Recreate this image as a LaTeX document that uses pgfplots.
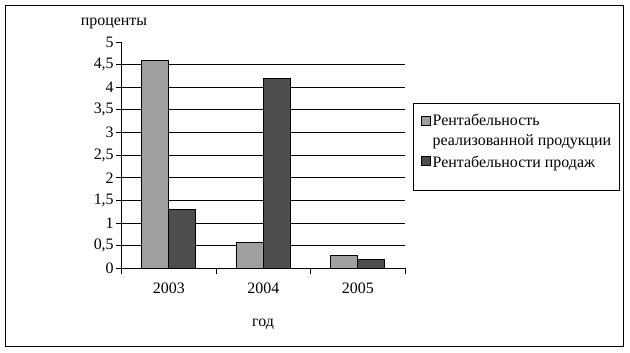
\documentclass[border=0pt]{standalone}
\usepackage{fontspec}
\setmainfont{Liberation Serif}
\usepackage{pgfplots}
\pgfplotsset{compat=1.18}
\definecolor{lg}{RGB}{160,160,160}
\definecolor{dg}{RGB}{77,77,77}
\begin{document}
\begin{tikzpicture}[x=1bp,y=1bp]
\useasboundingbox (0,0) rectangle (630,352);
\draw[line width=1bp] (5.3,352-5.3) rectangle (623.3,352-346);
\draw[line width=1bp] (413,352-103) rectangle (619.3,352-190);
\node[anchor=base,font=\fontsize{16}{19}\selectfont] at (114,352-25) {проценты};
\node[anchor=base,font=\fontsize{16}{19}\selectfont] at (263,352-326) {год};
\begin{axis}[
  at={(121.7bp,83.7bp)}, anchor=south west,
  scale only axis, width=283.3bp, height=226.3bp,
  ybar=0pt, bar width=27bp,
  xmin=-0.5, xmax=2.5, ymin=0, ymax=5,
  axis x line*=bottom, axis y line*=left,
  axis line style={line width=1bp},
  tick align=outside, major tick length=5.5bp,
  every tick/.style={black,line width=1bp},
  xtick={-0.5,0.5,1.5,2.5}, xticklabels={},
  extra x ticks={0,1,2}, extra x tick labels={2003,2004,2005},
  extra x tick style={major tick length=0pt, xticklabel style={yshift=-11bp}},
  ytick={0,0.5,...,5},
  yticklabels={0,{0,5},1,{1,5},2,{2,5},3,{3,5},4,{4,5},5},
  extra y ticks={0.5,1,1.5,2,2.5,3,3.5,4,4.5},
  extra y tick labels={},
  extra y tick style={ymajorgrids=true, major tick length=0pt},
  major grid style={black,line width=1bp},
  tick label style={font=\fontsize{16}{19}\selectfont},
  yticklabel style={xshift=1bp},
  legend style={at={(1.045,0.70)}, anchor=north west, draw=none, fill=none,
    font=\fontsize{16}{20}\selectfont, nodes={align=left}, row sep=5bp,
    legend cell align=left},
  legend cell align=left,
]
\addplot[fill=lg, draw=black, line width=0.9bp,
  legend image code/.code={\draw[fill=lg,draw=black,line width=0.8bp] (0bp,5bp) rectangle (9bp,14bp);}]
  coordinates {(0,4.6) (1,0.58) (2,0.29)};
\addlegendentry{Рентабельность\\реализованной продукции}
\addplot[fill=dg, draw=black, line width=0.9bp,
  legend image code/.code={\draw[fill=dg,draw=black,line width=0.8bp] (0bp,-3bp) rectangle (9bp,6bp);}]
  coordinates {(0,1.3) (1,4.2) (2,0.2)};
\addlegendentry{Рентабельности продаж}
\end{axis}
\end{tikzpicture}
\end{document}
